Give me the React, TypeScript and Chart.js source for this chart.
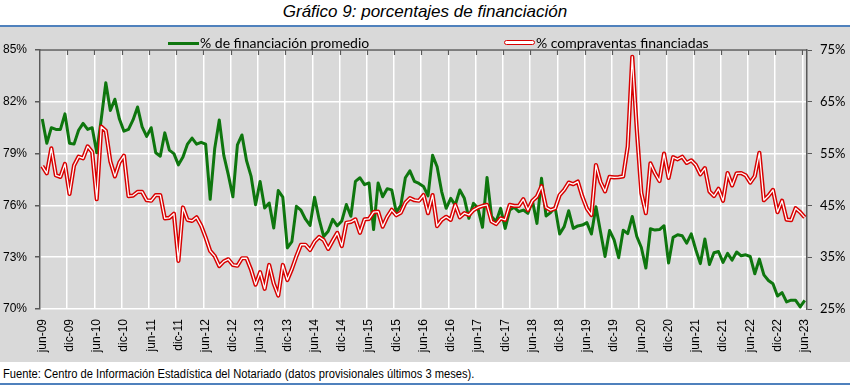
import React, { useEffect, useRef } from 'react';
import { Chart, registerables } from 'chart.js';

Chart.register(...registerables);

const MONTHS = ['ene', 'feb', 'mar', 'abr', 'may', 'jun', 'jul', 'ago', 'sep', 'oct', 'nov', 'dic'];
const START_YEAR = 2009;
const START_MONTH = 5; // jun

const TITLE = 'Gráfico 9: porcentajes de financiación';
const SERIES_GREEN = '% de financiación promedio';
const SERIES_RED = '% compraventas financiadas';
const SOURCE = 'Fuente: Centro de Información Estadística del Notariado (datos provisionales últimos 3 meses).';

// % de financiación promedio (left axis)
const financiacionPromedio = [
  81.0, 79.6, 80.5, 80.4, 80.4, 81.3, 79.6, 79.55, 80.35, 80.75, 80.4, 80.5,
  79.05, 81.0, 83.1, 81.5, 82.15, 81.0, 80.3, 80.4, 80.95, 81.7, 80.55, 80.0,
  80.5, 79.05, 78.85, 80.2, 79.2, 79.0, 78.35, 78.8, 79.55, 79.9, 79.55, 79.65,
  79.55, 76.35, 79.3, 80.95, 78.9, 77.77, 76.5, 79.5, 80.08, 78.6, 77.7, 76.04,
  77.39, 75.85, 76.14, 74.69, 76.86, 76.48, 73.54, 73.9, 75.95, 75.72, 75.2, 74.84,
  76.47, 75.2, 74.2, 74.5, 75.19, 74.82, 75.1, 76.05, 75.37, 77.39, 77.6, 77.2,
  77.3, 74.6, 77.3, 76.5, 76.97, 76.9, 75.6, 76.0, 77.6, 78.0, 77.39, 77.27,
  77.1, 76.55, 78.9, 78.24, 76.8, 75.83, 76.41, 76.02, 76.89, 76.41, 75.25, 76.12,
  75.83, 74.73, 77.62, 75.35, 75.06, 75.83, 74.67, 75.73, 75.89, 75.64, 75.73, 75.54,
  76.27, 74.96, 77.57, 75.39, 75.58, 75.89, 74.34, 74.77, 75.69, 74.67, 74.81, 74.86,
  75.0, 74.34, 75.92, 74.48, 73.04, 74.55, 74.0, 72.97, 74.56, 74.37, 75.36, 74.2,
  73.56, 72.37, 74.65, 74.57, 74.6, 74.82, 72.66, 74.15, 74.3, 74.24, 73.81, 74.35,
  73.43, 72.63, 74.05, 72.58, 73.26, 73.33, 72.7, 73.22, 72.83, 73.3, 73.08, 73.14,
  73.04, 72.04, 72.89, 71.98, 71.65, 71.46, 70.75, 70.95, 70.41, 70.51, 70.5, 70.12,
  70.5,
];

// % compraventas financiadas (right axis)
const compraventasFinanciadas = [
  52.6, 51.2, 56.0, 50.8, 50.5, 53.0, 47.2, 52.7, 54.4, 54.1, 56.4, 55.3,
  46.2, 60.2, 59.4, 53.5, 50.6, 53.3, 54.6, 46.8, 46.9, 47.6, 47.6, 46.0,
  45.9, 47.0, 47.0, 42.5, 42.6, 43.4, 34.3, 44.6, 42.2, 42.0, 42.7, 41.1,
  38.8, 36.2, 35.2, 33.3, 34.2, 34.6, 33.5, 33.35, 34.8, 34.8, 32.6, 29.7,
  32.1, 28.9, 33.5, 29.9, 27.6, 33.5, 30.6, 32.7, 35.2, 37.4, 37.4, 36.4,
  38.0, 38.9, 38.3, 36.6, 38.2, 39.7, 37.15, 41.65, 41.8, 42.3, 39.7, 42.3,
  42.4, 43.7, 43.8, 40.9, 42.8, 44.15, 43.1, 43.6, 45.5, 46.4, 46.0, 45.9,
  47.0, 43.5, 47.0, 41.0, 42.2, 42.8, 42.2, 45.1, 42.7, 43.5, 43.15, 44.1,
  44.6, 44.9, 45.1, 41.9, 41.4, 42.5, 42.2, 45.1, 44.9, 44.9, 46.2, 44.1,
  45.9, 46.7, 48.7, 44.6, 44.1, 44.4, 47.0, 48.0, 49.4, 49.1, 49.6, 46.7,
  44.4, 43.15, 52.8, 49.5, 47.7, 50.5, 50.4, 50.45, 50.6, 56.4, 73.7, 59.6,
  47.4, 43.5, 53.1, 51.2, 49.7, 55.0, 50.3, 54.3, 53.9, 54.4, 53.2, 53.7,
  52.8, 51.0, 52.2, 47.7, 46.8, 48.2, 45.9, 51.25, 48.85, 51.2, 51.25, 50.8,
  49.4, 50.65, 55.15, 46.0, 46.85, 48.0, 43.7, 45.9, 42.25, 42.15, 44.45, 43.7,
  42.7,
];

const categories = financiacionPromedio.map((_, i) => {
  const m = (START_MONTH + i) % 12;
  const y = START_YEAR + Math.floor((START_MONTH + i) / 12);
  return `${MONTHS[m]}-${String(y % 100).padStart(2, '0')}`;
});

const LABEL_EVERY = 6;
const leftAxis = { min: 70, max: 85, step: 3 };
const rightAxis = { min: 25, max: 75, step: 10 };

const GREEN = '#0e760e';
const RED = '#d80000';
const AXIS = '#595959';
const PANEL = '#d9d9d9';
const BLUE = '#4f81bd';

const topTicksPlugin = {
  id: 'topTicks',
  afterDraw(chart: any) {
    const { ctx, chartArea, scales } = chart;
    const xs = scales.x;
    const half = (xs.getPixelForValue(1) - xs.getPixelForValue(0)) / 2;
    ctx.save();
    ctx.strokeStyle = AXIS;
    ctx.lineWidth = 1.5;
    ctx.beginPath();
    ctx.moveTo(chartArea.left, chartArea.top);
    ctx.lineTo(chartArea.right, chartArea.top);
    ctx.stroke();
    ctx.lineWidth = 1.2;
    categories.forEach((_, i) => {
      if (i % LABEL_EVERY === 0 && i > 0) {
        const px = Math.round(xs.getPixelForValue(i) - half) + 0.5;
        ctx.beginPath();
        ctx.moveTo(px, chartArea.top);
        ctx.lineTo(px, chartArea.top + 5);
        ctx.stroke();
      }
    });
    ctx.restore();
  },
};

export default function App() {
  const canvasRef = useRef<HTMLCanvasElement | null>(null);

  useEffect(() => {
    if (!canvasRef.current) return;
    const chart = new Chart(canvasRef.current, {
      type: 'line',
      data: {
        labels: categories,
        datasets: [
          {
            label: SERIES_GREEN,
            data: financiacionPromedio,
            yAxisID: 'y',
            borderColor: GREEN,
            borderWidth: 3,
            pointRadius: 0,
            tension: 0,
            borderJoinStyle: 'round',
            order: 3,
          },
          {
            label: SERIES_RED,
            data: compraventasFinanciadas,
            yAxisID: 'y1',
            borderColor: RED,
            borderWidth: 4.2,
            pointRadius: 0,
            tension: 0,
            borderJoinStyle: 'round',
            order: 2,
          },
          {
            label: SERIES_RED + ' (interior)',
            data: compraventasFinanciadas,
            yAxisID: 'y1',
            borderColor: '#ffffff',
            borderWidth: 1.3,
            pointRadius: 0,
            tension: 0,
            borderJoinStyle: 'round',
            order: 1,
          },
        ],
      },
      options: {
        animation: false,
        responsive: false,
        maintainAspectRatio: false,
        devicePixelRatio: 1,
        events: [],
        layout: { padding: { top: 23, left: 0, right: 0, bottom: 0 } },
        plugins: {
          legend: { display: false },
          title: { display: false },
          tooltip: { enabled: false },
        },
        scales: {
          x: {
            type: 'category',
            offset: true,
            border: { display: false },
            grid: {
              offset: true,
              drawTicks: false,
              lineWidth: 1.5,
              color: (ctx: any) =>
                typeof ctx.index === 'number' && ctx.index % LABEL_EVERY === 0 ? '#ffffff' : 'rgba(0,0,0,0)',
            },
            ticks: {
              autoSkip: false,
              maxRotation: 90,
              minRotation: 90,
              padding: 10,
              color: '#000',
              font: { family: '"Liberation Sans", Arial, sans-serif', size: 12 },
              callback: (_v: any, i: number) => (i % LABEL_EVERY === 0 ? categories[i] : ''),
            },
            afterFit: (s: any) => {
              s.height = 53;
            },
          },
          y: {
            position: 'left',
            min: leftAxis.min,
            max: leftAxis.max,
            border: { display: true, color: AXIS, width: 1.5 },
            grid: { color: '#ffffff', lineWidth: 1.5, tickColor: AXIS, tickLength: 5, drawTicks: true },
            ticks: {
              stepSize: leftAxis.step,
              padding: 8,
              color: '#000',
              font: { family: '"Liberation Sans", Arial, sans-serif', size: 12 },
              callback: (v: any) => `${v}%`,
            },
            afterFit: (s: any) => {
              s.width = 40;
            },
          },
          y1: {
            position: 'right',
            min: rightAxis.min,
            max: rightAxis.max,
            border: { display: true, color: AXIS, width: 1.5 },
            grid: { drawOnChartArea: false, tickColor: AXIS, tickLength: 5, drawTicks: true },
            ticks: {
              stepSize: rightAxis.step,
              padding: 8,
              color: '#000',
              font: { family: 'Lato, "Open Sans", sans-serif', size: 13 },
              callback: (v: any) => `${v}%`,
            },
            afterFit: (s: any) => {
              s.width = 43;
            },
          },
        },
      },
      plugins: [topTicksPlugin],
    } as any);
    return () => chart.destroy();
  }, []);

  const legendFont = 'Lato, "Open Sans", sans-serif';

  return (
    <div
      style={{
        position: 'fixed',
        left: 0,
        top: 0,
        width: 850,
        height: 386,
        background: '#ffffff',
        overflow: 'hidden',
      }}
    >
      <div
        style={{
          position: 'absolute',
          left: 0,
          top: 0,
          width: 850,
          height: 24,
          lineHeight: '24px',
          textAlign: 'center',
          fontFamily: '"Liberation Sans", Arial, sans-serif',
          fontStyle: 'italic',
          fontSize: 17,
          color: '#000',
        }}
      >
        {TITLE}
      </div>
      <div style={{ position: 'absolute', left: 0, top: 25, width: 850, height: 2, background: BLUE }} />
      <div style={{ position: 'absolute', left: 0, top: 27, width: 850, height: 335, background: PANEL }}>
        <canvas ref={canvasRef} width={850} height={335} style={{ display: 'block', width: 850, height: 335 }} />
      </div>
      {/* legend */}
      <div style={{ position: 'absolute', left: 168, top: 41.5, width: 31, height: 3, background: GREEN }} />
      <div
        style={{
          position: 'absolute',
          left: 200,
          top: 33,
          fontFamily: legendFont,
          fontSize: 14,
          lineHeight: '20px',
          color: '#000',
          whiteSpace: 'nowrap',
        }}
      >
        {SERIES_GREEN}
      </div>
      <div
        style={{
          position: 'absolute',
          left: 504,
          top: 40,
          width: 29,
          height: 3,
          background: '#fff',
          border: `1.5px solid ${RED}`,
          borderRadius: 3,
        }}
      />
      <div
        style={{
          position: 'absolute',
          left: 536,
          top: 33,
          fontFamily: legendFont,
          fontSize: 14,
          lineHeight: '20px',
          color: '#000',
          whiteSpace: 'nowrap',
        }}
      >
        {SERIES_RED}
      </div>
      <div
        style={{
          position: 'absolute',
          left: 3,
          top: 367,
          fontFamily: '"Liberation Sans", Arial, sans-serif',
          fontSize: 12,
          lineHeight: '15px',
          color: '#000',
          whiteSpace: 'nowrap',
          transform: 'scaleX(0.93)',
          transformOrigin: 'left center',
        }}
      >
        {SOURCE}
      </div>
      <div style={{ position: 'absolute', left: 0, top: 383, width: 850, height: 1.5, background: BLUE }} />
    </div>
  );
}
